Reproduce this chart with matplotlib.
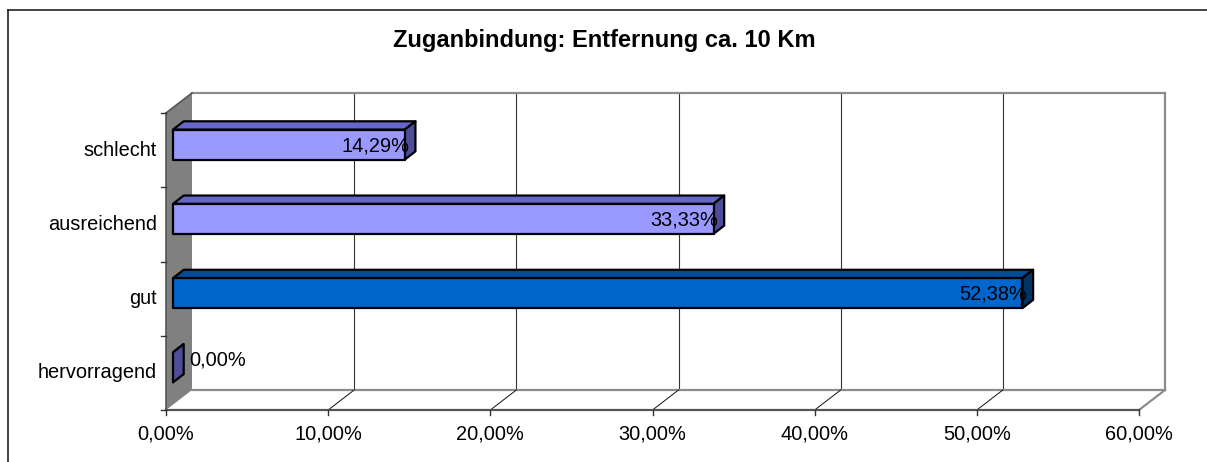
import matplotlib
matplotlib.use("Agg")
import matplotlib.pyplot as plt
from matplotlib.patches import Polygon, Rectangle
from matplotlib.lines import Line2D
from matplotlib.transforms import offset_copy
import numpy as np

plt.rcParams['font.family'] = ['Liberation Sans', 'DejaVu Sans']

# ---- data ----
categories = ["hervorragend", "gut", "ausreichend", "schlecht"]
values = [0.00, 52.38, 33.33, 14.29]
value_labels = ["0,00%", "52,38%", "33,33%", "14,29%"]
x_ticks = [0, 10, 20, 30, 40, 50, 60]
x_tick_labels = ["0,00%", "10,00%", "20,00%", "30,00%", "40,00%", "50,00%", "60,00%"]
title = "Zuganbindung: Entfernung ca. 10 Km"

# ---- styles ----
face_colors = ["#9999FF", "#0066CC", "#9999FF", "#9999FF"]
top_colors = ["#6666CC", "#004C99", "#6666CC", "#6666CC"]
side_colors = ["#4D4D99", "#003366", "#4D4D99", "#4D4D99"]

W, H = 1207, 462
DPI = 100
fig = plt.figure(figsize=(W / DPI, H / DPI), dpi=DPI)
fig.patch.set_facecolor("white")

# outer chart frame (cut at right and bottom)
fig.add_artist(Line2D([8 / W, 8 / W], [0, 1 - 10 / H], color="#222222", lw=1.2,
                      transform=fig.transFigure))
fig.add_artist(Line2D([8 / W, 1], [1 - 10 / H, 1 - 10 / H], color="#222222", lw=1.2,
                      transform=fig.transFigure))

# front plane of the plot
left, right, top, bottom = 166, 1139, 113, 410
ax = fig.add_axes([left / W, 1 - bottom / H, (right - left) / W, (bottom - top) / H])
ax.set_xlim(0, 60)
ax.set_ylim(-0.5, 3.5)
ax.axis("off")
ax.set_zorder(10)

DX, DY = 26, 20  # full depth offset in pixels
back = offset_copy(ax.transData, fig=fig, x=DX * 72 / DPI, y=DY * 72 / DPI, units="points")
bar_front = offset_copy(ax.transData, fig=fig, x=7 * 72 / DPI, y=5.5 * 72 / DPI, units="points")
bar_back = offset_copy(ax.transData, fig=fig, x=17.7 * 72 / DPI, y=13.8 * 72 / DPI, units="points")

def disp(tr, x, y):
    return tr.transform((x, y))

ymin, ymax = -0.5, 3.5
xmin, xmax = 0, 60

def poly(pts, **kw):
    p = Polygon(np.array(pts), closed=True, transform=None, **kw)
    fig.add_artist(p)
    return p

# back wall
poly([disp(back, xmin, ymin), disp(back, xmax, ymin), disp(back, xmax, ymax), disp(back, xmin, ymax)],
     facecolor="white", edgecolor="none", zorder=1)
# left side wall (gray)
poly([disp(ax.transData, xmin, ymin), disp(ax.transData, xmin, ymax),
      disp(back, xmin, ymax), disp(back, xmin, ymin)],
     facecolor="#808080", edgecolor="none", zorder=1.5)

def seg(p1, p2, color, lw, z=2):
    fig.add_artist(Line2D([p1[0], p2[0]], [p1[1], p2[1]], color=color, lw=lw,
                          transform=None, zorder=z, solid_capstyle="projecting"))

# gridlines on back wall
for t in x_ticks[1:-1]:
    seg(disp(back, t, ymin), disp(back, t, ymax), "#333333", 0.8)
# back wall border (gray)
seg(disp(back, xmin, ymax), disp(back, xmax, ymax), "#8C8C8C", 1.6)
seg(disp(back, xmax, ymin), disp(back, xmax, ymax), "#8C8C8C", 1.6)
seg(disp(back, xmin, ymin), disp(back, xmax, ymin), "#8C8C8C", 1.6)
# floor right diagonal
seg(disp(ax.transData, xmax, ymin), disp(back, xmax, ymin), "#8C8C8C", 1.6)
# floor tick diagonals
for t in x_ticks[1:-1]:
    seg(disp(ax.transData, t, ymin), disp(back, t, ymin), "#111111", 0.7)
# wall top edge
seg(disp(ax.transData, xmin, ymax), disp(back, xmin, ymax), "#555555", 1.2)
# front axes
seg(disp(ax.transData, xmin, ymin), disp(ax.transData, xmax, ymin), "#555555", 1.6, 3)
seg(disp(ax.transData, xmin, ymin), disp(ax.transData, xmin, ymax), "#555555", 1.2, 3)

# ticks
for t, lab in zip(x_ticks, x_tick_labels):
    p = disp(ax.transData, t, ymin)
    seg(p, (p[0], p[1] - 5), "#333333", 1.0, 3)
    ax.annotate(lab, (t, ymin), xytext=(0, -14), textcoords="offset pixels",
                ha="center", va="top", fontsize=14.4, color="black", annotation_clip=False)
for b in np.arange(ymin, ymax + 0.01, 1.0):
    p = disp(ax.transData, xmin, b)
    seg(p, (p[0] - 5, p[1]), "#333333", 1.0, 3)
for i, c in enumerate(categories):
    ax.annotate(c, (xmin, i), xytext=(-9, 0), textcoords="offset pixels",
                ha="right", va="center", fontsize=14.4, color="black", annotation_clip=False)

# bars
bh = 0.405
for i, v in enumerate(values):
    y0, y1 = i - bh / 2, i + bh / 2
    # top face
    poly([disp(bar_front, 0, y1), disp(bar_front, v, y1), disp(bar_back, v, y1), disp(bar_back, 0, y1)],
         facecolor=top_colors[i], edgecolor="black", lw=1.6, joinstyle="round", zorder=4)
    # side face
    poly([disp(bar_front, v, y0), disp(bar_back, v, y0), disp(bar_back, v, y1), disp(bar_front, v, y1)],
         facecolor=side_colors[i], edgecolor="black", lw=1.6, joinstyle="round", zorder=4)
    # front face
    if v > 0:
        ax.add_patch(Rectangle((0, y0), v, bh, transform=bar_front, facecolor=face_colors[i],
                               edgecolor="black", lw=1.6, joinstyle="round", zorder=5,
                               clip_on=False))

# value labels
for i, (v, lab) in enumerate(zip(values, value_labels)):
    if v > 0:
        ax.annotate(lab, (v, i), xycoords=bar_front, xytext=(5, -1), textcoords="offset pixels",
                    ha="right", va="center", fontsize=14.4, color="black", zorder=6,
                    annotation_clip=False)
    else:
        ax.annotate(lab, (v, i), xycoords=bar_front, xytext=(16, 7), textcoords="offset pixels",
                    ha="left", va="center", fontsize=14.4, color="black", zorder=6,
                    annotation_clip=False)

fig.text(604 / W, 1 - 47 / H, title, ha="center", va="baseline", fontsize=17,
         fontweight="bold", color="black")

fig.savefig("out.png", dpi=DPI, facecolor="white")
